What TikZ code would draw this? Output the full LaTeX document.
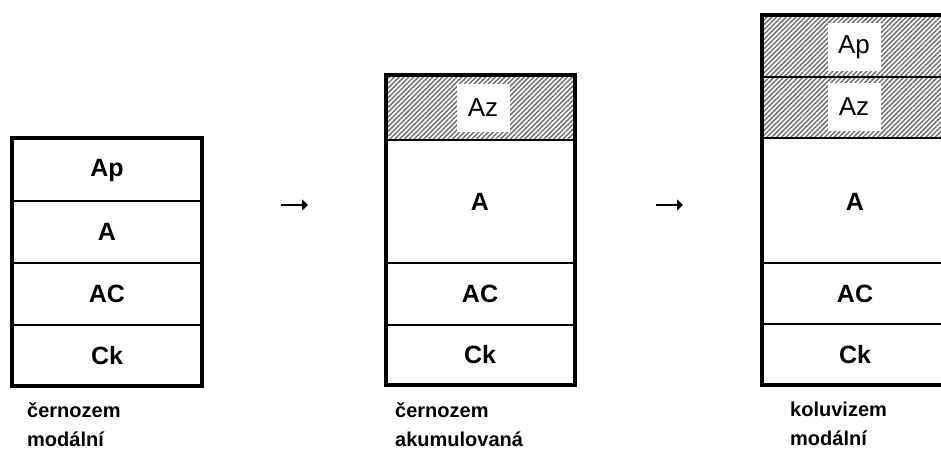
\documentclass[tikz,border=0pt]{standalone}
\usepackage{fontspec}
\setmainfont{Liberation Sans}
\usetikzlibrary{patterns.meta,arrows.meta}

\tikzset{
  hatch/.style={pattern={Lines[angle=45,distance=3.4pt,line width=1.5pt]},pattern color=black!55},
  soil/.style={font=\fontsize{25}{28}\selectfont\bfseries},
  tagbox/.style={fill=white,minimum width=53pt,minimum height=48pt,inner sep=0pt,font=\fontsize{26}{28}\selectfont},
  caption/.style={align=left,anchor=north west,inner sep=0pt,font=\fontsize{20}{29}\selectfont\bfseries},
  thin/.style={line width=1.8pt},
  thick/.style={line width=2.8pt},
  outline/.style={line width=4pt},
  goes/.style={line width=2pt,-{Triangle[length=6pt,width=11pt]}},
}

\begin{document}
\begin{tikzpicture}[x=1pt,y=-1pt]
\useasboundingbox (0,0) rectangle (941,457);

% profile 1
\draw [thin] (12,201) -- (202,201);
\draw [thin] (12,263) -- (202,263);
\draw [thin] (12,325) -- (202,325);
\draw [outline] (12,138) rectangle (202,386);

\node [soil] (p1_ap) at (107,170) {Ap};
\node [soil] (p1_a)  at (107,232) {A};
\node [soil] (p1_ac) at (107,294) {AC};
\node [soil] (p1_ck) at (107,356) {Ck};
\node [caption] (p1_name) at (27,402) {černozem\\modální};

% profile 2
\fill [white] (386,75) rectangle (575,140);
\fill [hatch] (386,75) rectangle (575,140);
\draw [thick] (386,140) -- (575,140);
\draw [thick] (386,263) -- (575,263);
\draw [thin]  (386,325) -- (575,325);
\draw [outline] (386,75) rectangle (575,385);

\node [tagbox] (p2_az) at (483,108) {Az};
\node [soil] (p2_a)  at (480,202) {A};
\node [soil] (p2_ac) at (480,294) {AC};
\node [soil] (p2_ck) at (480,355) {Ck};
\node [caption] (p2_name) at (395,402) {černozem\\akumulovaná};

% profile 3
\fill [hatch] (762,15) rectangle (952,138);
\draw [thin]  (762,77)  -- (952,77);
\draw [thick] (762,138) -- (952,138);
\draw [thick] (762,263) -- (952,263);
\draw [thin]  (762,324) -- (952,324);
\draw [outline] (762,15) rectangle (952,385);

\node [tagbox] (p3_ap) at (854,47)  {Ap};
\node [tagbox] (p3_az) at (854,107) {Az};
\node [soil] (p3_a)  at (855,202) {A};
\node [soil] (p3_ac) at (855,294) {AC};
\node [soil] (p3_ck) at (855,355) {Ck};
\node [caption] (p3_name) at (790,402) {koluvizem\\modální};

% arrows
\coordinate (go1_a) at (281,205);
\coordinate (go1_b) at (308,205);
\coordinate (go2_a) at (656,205);
\coordinate (go2_b) at (683,205);
\draw [goes] (go1_a) -- (go1_b);
\draw [goes] (go2_a) -- (go2_b);

\end{tikzpicture}
\end{document}
